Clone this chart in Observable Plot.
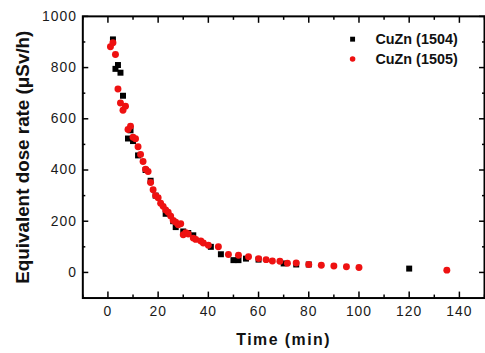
<!DOCTYPE html>
<html><head><meta charset="utf-8">
<script src="https://cdn.jsdelivr.net/npm/d3@7"></script>
<script src="https://cdn.jsdelivr.net/npm/@observablehq/plot@0.6"></script>
<style>
html,body{margin:0;padding:0;background:#fff;overflow:hidden;width:485px;height:353px}
#chart svg{display:block}
g[aria-label="x-axis tick label"] text, g[aria-label="y-axis tick label"] text{letter-spacing:1px}
.xtitle text{letter-spacing:1.5px}
</style></head><body><div id="chart"></div>
<script>
const xLabel = "Time (min)";
const yLabel = "Equivalent dose rate (μSv/h)";
const seriesNames = ["CuZn (1504)", "CuZn (1505)"];
const seriesColors = ["#000000", "#ee1111"];

const x1504 = [2,3,4,5,6,8,9,10,12,15,17,19,23,26,27,30,32,34,41,45,50,52,55,60,70,75,80,120];
const y1504 = [910,795,810,780,690,523,555,513,457,400,358,300,229,200,177,160,154,145,100,71,48,48,54,50,35,31,31,15];

const x1505 = [1,2,3,4,5,6,7,8,9,10,11,12,13,14,15,16,17,18,19,20,21,22,23,24,25,26,27,28,29,30,31,32,34,35,37,38,40,44,48,52,56,60,63,65.5,68.5,71.5,75,80,85,90,95,100,135];
const y1505 = [881,897,851,716,662,633,649,558,571,528,522,491,461,433,403,394,351,323,300,292,270,258,244,235,220,203,196,186,190,147,155,150,134,129,123,115,106,100,70,67,61,54,50,45,44,36,37,31,28,25,22,19,9];

const xTicks = [0,20,40,60,80,100,120,140];
const xMinorTicks = [-10,10,30,50,70,90,110,130,150];
const yTicks = [0,200,400,600,800,1000];
const yMinorTicks = [-100,100,300,500,700,900];

const d1504 = x1504.map((x,i)=>({x, y:y1504[i]}));
const d1505 = x1505.map((x,i)=>({x, y:y1505[i]}));

const font = "'Liberation Sans', Arial, sans-serif";
const tickAxis = (kind, anchor, ticks, size) =>
  (kind === "x" ? Plot.axisX : Plot.axisY)({anchor, ticks, tickSize: size, fill: "none", label: null, stroke: "#000", strokeWidth: 1.5});

const chart = Plot.plot({
  width: 489, height: 353,
  marginLeft: 83, marginRight: 1, marginTop: 16, marginBottom: 53,
  x: {domain: [-10, 150]},
  y: {domain: [-100, 1000]},
  style: {fontFamily: font, fontSize: "14px", color: "#1a1a1a", background: "#fff", overflow: "visible"},
  marks: [
    Plot.axisX({ticks: xTicks, tickFormat: d3.format("d"), tickSize: 0, tickPadding: 8, label: null, fontSize: 14}),
    Plot.axisY({ticks: yTicks, tickFormat: d3.format("d"), tickSize: 0, tickPadding: 6, label: null, fontSize: 14}),
    tickAxis("x", "bottom", xTicks, -6),
    tickAxis("x", "bottom", xMinorTicks, -3),
    tickAxis("x", "top", xTicks, -6),
    tickAxis("x", "top", xMinorTicks, -3),
    tickAxis("y", "left", yTicks, -6),
    tickAxis("y", "left", yMinorTicks, -3),
    tickAxis("y", "right", yTicks, -6),
    tickAxis("y", "right", yMinorTicks, -3),
    Plot.frame({stroke: "#000", strokeWidth: 2}),
    Plot.dot(d1504, {x: "x", y: "y", symbol: "square", r: 3.4, fill: seriesColors[0], stroke: "none"}),
    Plot.dot(d1505, {x: "x", y: "y", symbol: "circle", r: 3.5, fill: seriesColors[1], stroke: "none"}),
    // legend
    Plot.dot([seriesNames[0]], {frameAnchor: "top-right", dx: -133, dy: 23, symbol: "square", r: 2.8, fill: seriesColors[0]}),
    Plot.dot([seriesNames[1]], {frameAnchor: "top-right", dx: -133, dy: 43, symbol: "circle", r: 2.8, fill: seriesColors[1]}),
    Plot.text([seriesNames[0]], {frameAnchor: "top-right", dx: -110, dy: 23, text: d => d, textAnchor: "start", lineAnchor: "middle", fontWeight: "bold", fontSize: 14.5, fill: "#111"}),
    Plot.text([seriesNames[1]], {frameAnchor: "top-right", dx: -110, dy: 43, text: d => d, textAnchor: "start", lineAnchor: "middle", fontWeight: "bold", fontSize: 14.5, fill: "#111"}),
    // axis titles
    Plot.text([xLabel], {frameAnchor: "bottom", dy: 42, text: d => d, textAnchor: "middle", lineAnchor: "middle", fontWeight: "bold", fontSize: 16, fill: "#111", className: "xtitle"}),
    Plot.text([yLabel], {frameAnchor: "left", dx: -60, rotate: -90, text: d => d, textAnchor: "middle", lineAnchor: "middle", fontWeight: "bold", fontSize: 19, fill: "#111"})
  ]
});
document.getElementById("chart").appendChild(chart);
</script></body></html>
